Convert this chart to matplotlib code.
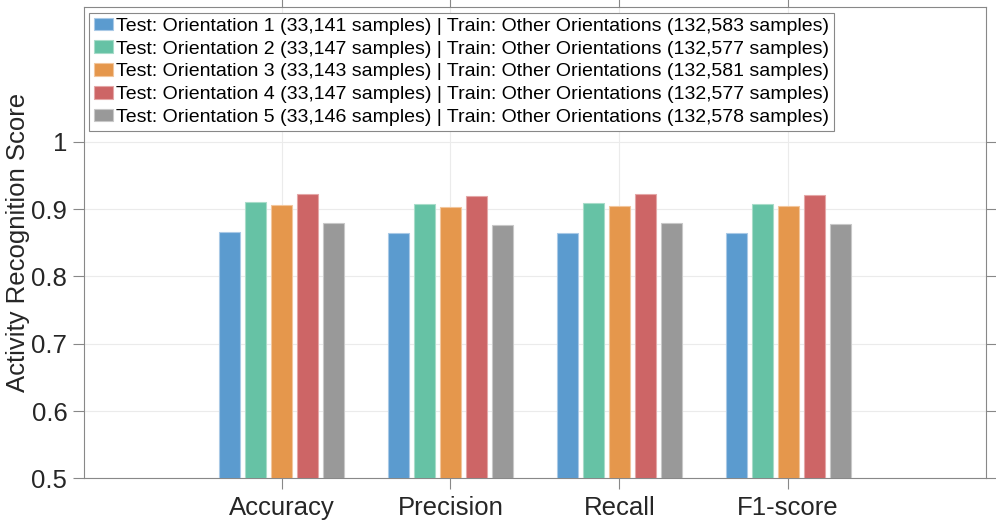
import numpy as np
import matplotlib
matplotlib.use("Agg")
import matplotlib.pyplot as plt

plt.rcParams['font.family'] = ['Liberation Sans', 'DejaVu Sans']

metrics = ['Accuracy', 'Precision', 'Recall', 'F1-score']
series_labels = [
    'Test: Orientation 1 (33,141 samples) | Train: Other Orientations (132,583 samples)',
    'Test: Orientation 2 (33,147 samples) | Train: Other Orientations (132,577 samples)',
    'Test: Orientation 3 (33,143 samples) | Train: Other Orientations (132,581 samples)',
    'Test: Orientation 4 (33,147 samples) | Train: Other Orientations (132,577 samples)',
    'Test: Orientation 5 (33,146 samples) | Train: Other Orientations (132,578 samples)',
]
orient1 = [0.866, 0.864, 0.864, 0.864]
orient2 = [0.910, 0.908, 0.909, 0.908]
orient3 = [0.906, 0.903, 0.905, 0.904]
orient4 = [0.922, 0.920, 0.922, 0.921]
orient5 = [0.879, 0.877, 0.879, 0.878]
colors = ['#5b9bcf', '#66c2a5', '#e5974c', '#cd6566', '#999999']
edges = ['#a9c9e6', '#a8dcc9', '#f2c69c', '#e4a7a7', '#c8c8c8']

values = [orient1, orient2, orient3, orient4, orient5]

fig = plt.figure(figsize=(9.96, 5.30), dpi=100)
ax = fig.add_axes([84 / 996, 1 - 478.3 / 530, (985.7 - 84) / 996, (478.3 - 7.3) / 530])

x = np.arange(1, len(metrics) + 1)
step = 0.154
width = 0.124
for i, (vals, lab) in enumerate(zip(values, series_labels)):
    ax.bar(x + (i - 2) * step, vals, width, color=colors[i], edgecolor=edges[i],
           linewidth=0.8, label=lab, zorder=3)

ax.set_xlim(-0.17, 5.17)
ax.set_ylim(0.5, 1.2)
ax.set_yticks([0.5, 0.6, 0.7, 0.8, 0.9, 1.0])
ax.set_yticklabels(['0.5', '0.6', '0.7', '0.8', '0.9', '1'])
ax.set_xticks(x)
ax.set_xticklabels(metrics)
ax.grid(True, color='#ebebeb', linewidth=0.8, zorder=0)
ax.tick_params(axis='both', direction='out', length=8, width=0.8, color='#888888',
               labelsize=18.5, labelcolor='#262626', top=True, right=True)
ax.tick_params(axis='x', pad=5)
ax.tick_params(axis='y', pad=4)
for s in ax.spines.values():
    s.set_color('#888888')
    s.set_linewidth(0.8)
ax.set_ylabel('Activity Recognition Score', fontsize=18.5, color='#262626', labelpad=1)

leg = ax.legend(loc='upper left', bbox_to_anchor=(0.0055, 0.9885), fontsize=14,
                handlelength=1.0, handleheight=0.62, handletextpad=0.12,
                labelspacing=0.29, borderpad=0.25, borderaxespad=0, fancybox=False,
                framealpha=1)
leg.get_frame().set_edgecolor('#888888')
leg.get_frame().set_linewidth(0.8)

plt.savefig('out.png', dpi=100)
